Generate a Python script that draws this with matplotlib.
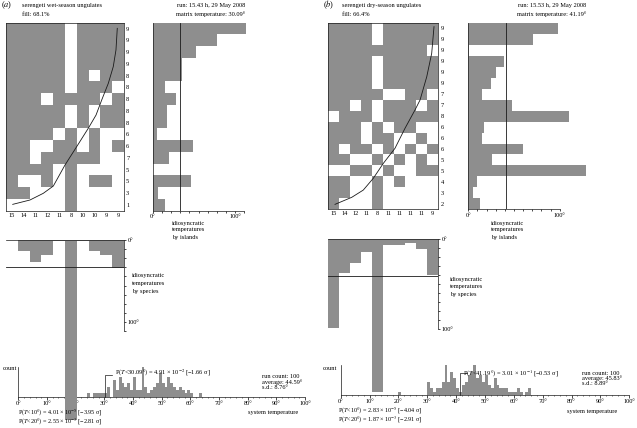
import numpy as np
import matplotlib
matplotlib.use('Agg')
import matplotlib.pyplot as plt
import matplotlib.transforms as mtransforms
from matplotlib.colors import ListedColormap

plt.rcParams['font.family'] = ['Liberation Serif', 'DejaVu Serif']
plt.rcParams['mathtext.fontset'] = 'stix'

W, H = 637, 428
GRAY = '#8e8e8e'
INK = '#1a1a1a'
FS = 4.6

# ---------------- panel (a): wet season ----------------
a_title = 'serengeti wet-season ungulates'
a_fill = 'fill: 68.1%'
a_run = 'run: 15.43 h, 29 May 2008'
a_mtemp = 30.09
a_row_labels = [9, 9, 9, 9, 8, 8, 8, 8, 8, 6, 6, 7, 5, 5, 3, 1]
a_col_labels = [15, 14, 11, 12, 11, 8, 10, 10, 9, 9]
a_matrix = ['1111101111', '1111101111', '1111101111', '1111101111',
            '1111101011', '1111101110', '1110111101', '1111101011',
            '1111101011', '1111010100', '1100110101', '1101111100',
            '1111010000', '1001010110', '1100010000', '0000010000']
a_curve_x = [0.57, 2.03, 3.16, 4.01, 5.0, 5.99, 6.97, 7.63, 8.11, 8.67, 9.09, 9.32, 9.43]
a_curve_y = [15.46, 15.09, 14.52, 13.9, 12.11, 10.55, 8.99, 7.86, 6.58, 5.16, 3.74, 2.32, 0.48]
a_island = [101.8, 69.8, 47.3, 31.6, 31.6, 13.5, 25.5, 15.3, 15.3, 5.1,
            43.6, 18.2, 0.7, 41.8, 6.2, 13.5]
a_species = [0.5, 11.8, 23.9, 16.5, 1.0, 198.0, 1.0, 11.8, 16.5, 31.2]
a_hist_deg = [24, 26, 27, 28, 29, 30, 31, 33, 34, 35, 36, 37, 38, 39, 40, 41, 42, 43,
              44, 45, 46, 47, 48, 49, 50, 51, 52, 53, 54, 55, 56, 57, 58, 59, 60, 63]
a_hist_cnt = [1, 1, 1, 1, 1, 1, 3, 5, 2, 6, 4, 3, 4, 2, 6, 2, 2, 9,
              3, 1, 2, 3, 4, 7, 4, 3, 6, 4, 3, 2, 3, 2, 1, 2, 1, 1]
a_stats = ['run count: 100', 'average: 44.59°', 's.d.: 8.76°']
a_pmat = 'P($T$<30.09°) = 4.91 × 10$^{-2}$ [−1.66 σ]'
a_p10 = 'P($T$<10°) = 4.01 × 10$^{-5}$ [−3.95 σ]'
a_p20 = 'P($T$<20°) = 2.55 × 10$^{-3}$ [−2.81 σ]'

# ---------------- panel (b): dry season ----------------
b_title = 'serengeti dry-season ungulates'
b_fill = 'fill: 66.4%'
b_run = 'run: 15.53 h, 29 May 2008'
b_mtemp = 41.19
b_row_labels = [9, 9, 9, 9, 9, 9, 7, 7, 8, 6, 6, 6, 5, 5, 4, 3, 2]
b_col_labels = [15, 14, 12, 11, 8, 11, 11, 11, 11, 9]
b_matrix = ['1111011111', '1111011111', '1111111110', '1111011111',
            '1111011111', '1111011111', '1111100110', '1101011101',
            '0111011111', '1110101100', '1110110010', '1011010101',
            '1100101010', '0011010011', '1100101000', '1100100000',
            '1000100000']
b_curve_x = [0.61, 2.13, 3.18, 4.09, 5.0, 6.06, 6.97, 7.88, 8.34, 8.95, 9.4, 9.61]
b_curve_y = [16.54, 15.9, 15.24, 14.17, 12.81, 11.44, 9.62, 7.95, 7.04, 4.92, 2.79, 0.36]
b_island = [97.7, 70.4, 1.0, 39.4, 30.3, 24.8, 14.6, 47.4, 110.5, 17.1,
            14.6, 59.4, 25.5, 128.7, 9.8, 4.7, 12.8]
b_species = [99.5, 38.2, 26.4, 14.8, 170.0, 6.5, 6.5, 4.0, 11.0, 40.5]
b_hist_deg = [20, 30, 31, 32, 33, 34, 35, 36, 37, 38, 39, 40, 41, 42, 43, 44, 45, 46,
              47, 48, 49, 50, 51, 52, 53, 54, 55, 56, 57, 58, 59, 60, 61, 62, 64, 65]
b_hist_cnt = [1, 4, 2, 1, 2, 2, 4, 9, 4, 7, 5, 2, 1, 3, 4, 6, 7, 9,
              5, 6, 4, 6, 3, 2, 5, 3, 2, 2, 2, 1, 1, 1, 2, 1, 1, 2]
b_stats = ['run count: 100', 'average: 45.83°', 's.d.: 8.89°']
b_pmat = 'P($T$<41.19°) = 3.01 × 10$^{-1}$ [−0.53 σ]'
b_p10 = 'P($T$<10°) = 2.83 × 10$^{-5}$ [−4.04 σ]'
b_p20 = 'P($T$<20°) = 1.87 × 10$^{-3}$ [−2.91 σ]'

# ---------------- layout (pixel boxes: x0, y0, x1, y1) ----------------
layout = {
    'a': dict(matrix=(6, 22.7, 124, 210.7), island=(152.7, 22.7, 244.3, 210.7),
              species=(6, 240, 124, 331), system=(18.3, 366.7, 305, 396.7),
              lab100=9, tag=(1, 5), title=(21.7, 5), run_r=245.5,
              isl_lab=(172, 223), sp_lab=(132, 276), count=(16.7, 369),
              pmat=(115, 373), stats=(261.7, 376.7, 5.5), systxt=(248, 412.7),
              pp=(18, 412.2, 9.5)),
    'b': dict(matrix=(328.3, 22.7, 438.3, 209.4), island=(468.3, 22.7, 559.7, 209.4),
              species=(328.3, 239, 438.3, 328.8), system=(340.7, 365, 629.3, 395),
              lab100=10, tag=(322.7, 5), title=(341.7, 5), run_r=586,
              isl_lab=(490.7, 223), sp_lab=(450, 279.3), count=(337, 368.3),
              pmat=(463.3, 373.3), stats=(581.7, 373.3, 5), systxt=(567, 411),
              pp=(338, 410.5, 9.5)),
}


def px_axes(fig, box):
    x0, y0, x1, y1 = box
    ax = fig.add_axes([x0 / W, 1 - y1 / H, (x1 - x0) / W, (y1 - y0) / H])
    ax.patch.set_visible(False)
    return ax


def px_text(fig, x, y, s, **kw):
    kw.setdefault('fontsize', FS)
    kw.setdefault('va', 'center')
    fig.text(x / W, 1 - y / H, s, **kw)


def style_spines(ax, show):
    for name, sp in ax.spines.items():
        sp.set_visible(name in show)
        sp.set_linewidth(0.5)
        sp.set_color(INK)


def end_labels(k):
    # the '100°' label sits on tick k (the wet-season plot puts it one tick early)
    labs = [''] * 11
    labs[0] = '0°'
    labs[k] = '100°'
    return labs


def draw_panel(fig, tag, title, fill, run, mtemp, row_labels, col_labels, matrix,
               curve_x, curve_y, island, species, hist_deg, hist_cnt, stats,
               pmat, p10, p20, g):
    m = np.array([[int(c) for c in r] for r in matrix])
    nr, nc = m.shape

    # presence/absence matrix
    ax = px_axes(fig, g['matrix'])
    ax.pcolormesh(np.arange(nc + 1), np.arange(nr + 1), m,
                  cmap=ListedColormap(['white', GRAY]), vmin=0, vmax=1)
    ax.plot(curve_x, curve_y, color=INK, lw=0.6)
    ax.set_xlim(0, nc)
    ax.set_ylim(nr, 0)
    ax.set_xticks(np.arange(nc) + 0.5)
    ax.set_xticklabels(col_labels)
    ax.set_yticks(np.arange(nr) + 0.5)
    ax.set_yticklabels(row_labels)
    ax.yaxis.tick_right()
    ax.tick_params(length=0, labelsize=FS, pad=1.5)
    style_spines(ax, ['left', 'right', 'top', 'bottom'])

    # idiosyncratic temperatures by islands
    ax2 = px_axes(fig, g['island'])
    ax2.barh(np.arange(nr) + 0.5, island, height=1.0, color=GRAY, lw=0, clip_on=False)
    ax2.axvline(mtemp, color=INK, lw=0.6)
    ax2.set_ylim(nr, 0)
    ax2.set_xlim(0, 100)
    ax2.set_yticks([])
    ax2.set_xticks(range(0, 101, 10))
    ax2.set_xticklabels(end_labels(g['lab100']))
    ax2.tick_params(axis='x', length=1.5, width=0.5, labelsize=FS, pad=1)
    style_spines(ax2, ['left', 'bottom'])

    # idiosyncratic temperatures by species
    ax3 = px_axes(fig, g['species'])
    ax3.set_zorder(1.5)
    ax3.bar(np.arange(nc) + 0.5, species, width=1.0, color=GRAY, lw=0, clip_on=False)
    ax3.axhline(mtemp, color=INK, lw=0.6)
    ax3.set_xlim(0, nc)
    ax3.set_ylim(100, 0)
    ax3.set_xticks([])
    ax3.yaxis.tick_right()
    ax3.set_yticks(range(0, 101, 10))
    ax3.set_yticklabels(end_labels(g['lab100']))
    ax3.tick_params(axis='y', length=1.5, width=0.5, labelsize=FS, pad=1)
    style_spines(ax3, ['top', 'right'])

    # system temperature histogram
    ax4 = px_axes(fig, g['system'])
    ax4.bar(np.array(hist_deg) + 0.5, hist_cnt, width=1.0, color=GRAY, lw=0)
    ax4.set_xlim(0, 100)
    ax4.set_ylim(0, 9)
    ax4.set_yticks([])
    ax4.set_xticks(range(0, 101, 10))
    ax4.set_xticklabels(['%d°' % v for v in range(0, 101, 10)])
    ax4.set_xticks(range(0, 101, 2), minor=True)
    ax4.tick_params(axis='x', which='major', length=2, width=0.5, labelsize=FS, pad=1)
    ax4.tick_params(axis='x', which='minor', length=1, width=0.4)
    style_spines(ax4, ['left', 'bottom'])
    trans = mtransforms.blended_transform_factory(ax4.transData, ax4.transAxes)
    ax4.plot([mtemp, mtemp, mtemp + 2.5], [0, 0.72, 0.72], transform=trans,
             color=INK, lw=0.5, clip_on=False)

    # texts
    px_text(fig, *g['tag'], '($a$)' if tag == 'a' else '($b$)', fontsize=6)
    tx, ty = g['title']
    px_text(fig, tx, ty, title)
    px_text(fig, tx, ty + 9, fill)
    px_text(fig, g['run_r'], 5, run, ha='right')
    px_text(fig, g['run_r'], 14, 'matrix temperature: %.2f°' % mtemp, ha='right')
    ix, iy = g['isl_lab']
    for i, s in enumerate(['idiosyncratic', 'temperatures', 'by islands']):
        px_text(fig, ix, iy + 7 * i, s)
    sx, sy = g['sp_lab']
    for i, s in enumerate(['idiosyncratic', 'temperatures', 'by species']):
        px_text(fig, sx, sy + 7.5 * i, s)
    px_text(fig, *g['count'], 'count', ha='right')
    px_text(fig, *g['pmat'], pmat)
    stx, sty, sdy = g['stats']
    for i, s in enumerate(stats):
        px_text(fig, stx, sty + sdy * i, s)
    px_text(fig, *g['systxt'], 'system temperature')
    px, py, pdy = g['pp']
    px_text(fig, px, py, p10, fontsize=4.4)
    px_text(fig, px, py + pdy, p20, fontsize=4.4)


fig = plt.figure(figsize=(W / 100, H / 100), dpi=100)
draw_panel(fig, 'a', a_title, a_fill, a_run, a_mtemp, a_row_labels, a_col_labels,
           a_matrix, a_curve_x, a_curve_y, a_island, a_species, a_hist_deg,
           a_hist_cnt, a_stats, a_pmat, a_p10, a_p20, layout['a'])
draw_panel(fig, 'b', b_title, b_fill, b_run, b_mtemp, b_row_labels, b_col_labels,
           b_matrix, b_curve_x, b_curve_y, b_island, b_species, b_hist_deg,
           b_hist_cnt, b_stats, b_pmat, b_p10, b_p20, layout['b'])
fig.savefig('out.png', dpi=100)
